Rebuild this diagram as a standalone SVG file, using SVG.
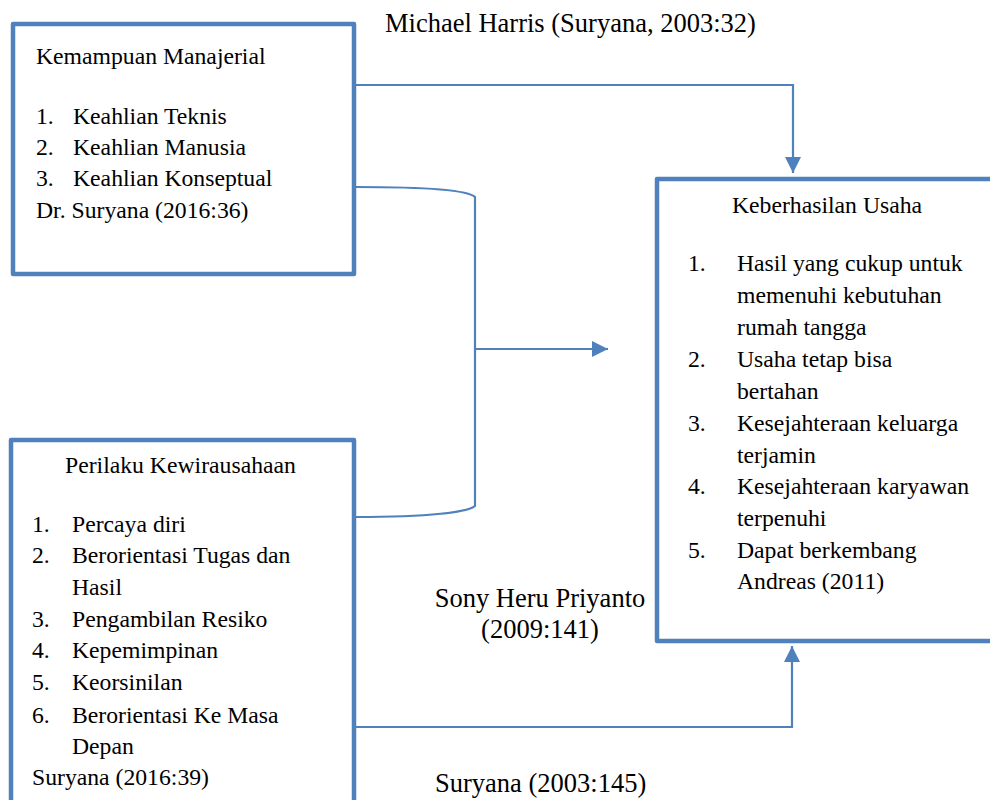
<svg xmlns="http://www.w3.org/2000/svg" width="990" height="800" viewBox="0 0 990 800">
<style>
.box{fill:#fff;stroke:#4F81BD;stroke-width:4.5;stroke-linejoin:round}
.c{fill:none;stroke:#4F81BD;stroke-width:2.2}
text{font-family:'Liberation Serif','Times New Roman',Times,'DejaVu Serif',serif;fill:#000}
.t{font-size:23.7px}
.lbl{font-size:26.5px}
</style>
<defs>
<marker id="ah" viewBox="0 0 10 10" refX="10" refY="5" markerWidth="16" markerHeight="16" markerUnits="userSpaceOnUse" orient="auto">
<path d="M0,0 L10,5 L0,10 Z" fill="#4F81BD"/>
</marker>
</defs>
<rect width="990" height="800" fill="#fff"/>
<g id="connectors">
<path class="c" d="M356,85 L793,85 L793,173" marker-end="url(#ah)"/>
<path class="c" d="M356,187 C430,187 468,190 475,197 L475,506 C468,512 430,517 356,517"/>
<path class="c" d="M475,349 L608,349" marker-end="url(#ah)"/>
<path class="c" d="M356,727 L792,727 L792,646" marker-end="url(#ah)"/>
</g>
<g id="kemampuan">
<rect class="box" x="13" y="24" width="341" height="250"/>
<text class="t" x="36" y="64" font-family="Liberation Serif">Kemampuan Manajerial</text>
<text class="t" x="36" y="124">1.</text><text class="t" x="73" y="124">Keahlian Teknis</text>
<text class="t" x="36" y="155">2.</text><text class="t" x="73" y="155">Keahlian Manusia</text>
<text class="t" x="36" y="186">3.</text><text class="t" x="73" y="186">Keahlian Konseptual</text>
<text class="t" x="36" y="218">Dr. Suryana (2016:36)</text>
</g>
<g id="perilaku">
<rect class="box" x="11" y="440" width="343" height="400"/>
<text class="t" x="65" y="473">Perilaku Kewirausahaan</text>
<text class="t" x="32" y="532">1.</text><text class="t" x="72" y="532">Percaya diri</text>
<text class="t" x="32" y="563">2.</text><text class="t" x="72" y="563">Berorientasi Tugas dan</text>
<text class="t" x="72" y="595">Hasil</text>
<text class="t" x="32" y="627">3.</text><text class="t" x="72" y="627">Pengambilan Resiko</text>
<text class="t" x="32" y="658">4.</text><text class="t" x="72" y="658">Kepemimpinan</text>
<text class="t" x="32" y="690">5.</text><text class="t" x="72" y="690">Keorsinilan</text>
<text class="t" x="32" y="723">6.</text><text class="t" x="72" y="723">Berorientasi Ke Masa</text>
<text class="t" x="72" y="754">Depan</text>
<text class="t" x="32" y="785">Suryana (2016:39)</text>
</g>
<g id="keberhasilan">
<rect class="box" x="657" y="179" width="345" height="462"/>
<text class="t" x="732" y="213">Keberhasilan Usaha</text>
<text class="t" x="688" y="271">1.</text><text class="t" x="737" y="271">Hasil yang cukup untuk</text>
<text class="t" x="737" y="303">memenuhi kebutuhan</text>
<text class="t" x="737" y="335">rumah tangga</text>
<text class="t" x="688" y="367">2.</text><text class="t" x="737" y="367">Usaha tetap bisa</text>
<text class="t" x="737" y="399">bertahan</text>
<text class="t" x="688" y="431">3.</text><text class="t" x="737" y="431">Kesejahteraan keluarga</text>
<text class="t" x="737" y="463">terjamin</text>
<text class="t" x="688" y="494">4.</text><text class="t" x="737" y="494">Kesejahteraan karyawan</text>
<text class="t" x="737" y="526">terpenuhi</text>
<text class="t" x="688" y="558">5.</text><text class="t" x="737" y="558">Dapat berkembang</text>
<text class="t" x="737" y="589">Andreas (2011)</text>
</g>
<g id="labels">
<text class="lbl" x="385" y="32">Michael Harris (Suryana, 2003:32)</text>
<text class="lbl" x="540" y="607" text-anchor="middle">Sony Heru Priyanto</text>
<text class="lbl" x="540" y="638" text-anchor="middle">(2009:141)</text>
<text class="lbl" x="435" y="792">Suryana (2003:145)</text>
</g>
</svg>
